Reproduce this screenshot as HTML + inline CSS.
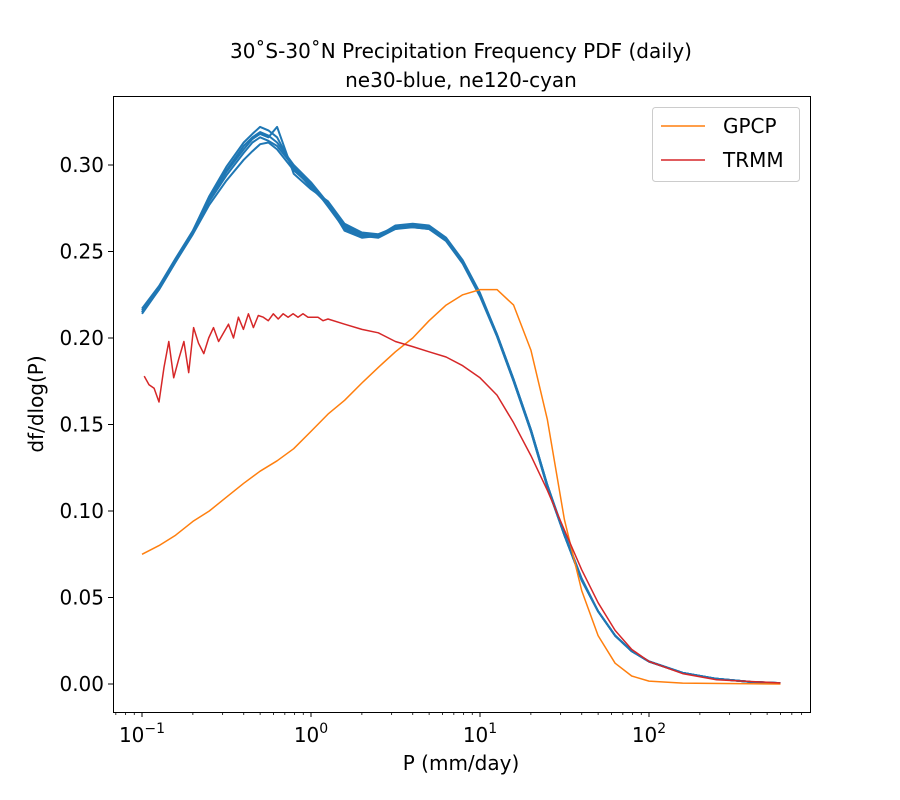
<!DOCTYPE html>
<html><head><meta charset="utf-8"><style>
html,body{margin:0;padding:0;background:#fff;}
svg{display:block;font-family:"DejaVu Sans","Liberation Sans",sans-serif;}
</style></head><body>
<svg id="chart" width="900" height="800" viewBox="0 0 900 800" xmlns="http://www.w3.org/2000/svg">
<rect x="0" y="0" width="900" height="800" fill="#fff"/>
<text x="461" y="58" text-anchor="middle" font-size="20">30˚S-30˚N Precipitation Frequency PDF (daily)</text>
<text x="461" y="87" text-anchor="middle" font-size="20">ne30-blue, ne120-cyan</text>
<g id="plot"></g>
<text x="461" y="770" text-anchor="middle" font-size="20">P (mm/day)</text>
<text transform="translate(43,404) rotate(-90)" text-anchor="middle" font-size="20">df/dlog(P)</text>
<g>
<rect x="652.5" y="107.5" width="147" height="74" rx="3" fill="#fff" stroke="#ccc"/>
<line x1="661" y1="126" x2="705" y2="126" stroke="#ff7f0e" stroke-width="1.5"/>
<text x="723" y="133" font-size="20">GPCP</text>
<line x1="661" y1="160" x2="705" y2="160" stroke="#d62728" stroke-width="1.5"/>
<text x="723" y="167" font-size="20">TRMM</text>
</g>
</svg>
<script>
const blueP = [0.1,0.126,0.158,0.2,0.25,0.316,0.4,0.45,0.5,0.56,0.63,0.79,1.0,1.26,1.58,2.0,2.5,3.16,4.0,5.0,6.3,7.9,10,12.6,15.8,20,25,31.6,40,50,63,79,100,158,251,398,600];
const blue1 = [0.214,0.228,0.244,0.260,0.277,0.291,0.303,0.308,0.312,0.313,0.309,0.297,0.288,0.277,0.265,0.260,0.259,0.264,0.265,0.264,0.257,0.244,0.225,0.202,0.176,0.147,0.115,0.086,0.060,0.042,0.028,0.019,0.013,0.0065,0.003,0.0012,0.0005];
const blue2 = [0.216,0.229,0.245,0.261,0.279,0.294,0.307,0.313,0.316,0.314,0.311,0.299,0.289,0.276,0.263,0.259,0.258,0.263,0.264,0.263,0.256,0.243,0.224,0.201,0.175,0.146,0.114,0.086,0.060,0.042,0.028,0.019,0.013,0.0065,0.003,0.0012,0.0005];
const blue3 = [0.217,0.230,0.246,0.262,0.281,0.297,0.311,0.316,0.319,0.317,0.313,0.300,0.290,0.278,0.262,0.258,0.259,0.265,0.266,0.265,0.258,0.245,0.226,0.202,0.176,0.147,0.115,0.087,0.061,0.042,0.028,0.019,0.013,0.0065,0.003,0.0012,0.0005];
const blue4 = [0.215,0.229,0.245,0.262,0.282,0.299,0.313,0.318,0.322,0.320,0.316,0.298,0.287,0.277,0.264,0.260,0.259,0.263,0.265,0.264,0.257,0.244,0.225,0.201,0.175,0.146,0.114,0.086,0.060,0.042,0.028,0.019,0.013,0.0065,0.003,0.0012,0.0005];
const blue5 = [0.215,0.228,0.244,0.261,0.280,0.296,0.309,0.315,0.318,0.316,0.322,0.295,0.286,0.279,0.266,0.261,0.260,0.264,0.264,0.263,0.257,0.244,0.225,0.202,0.176,0.147,0.115,0.086,0.060,0.042,0.028,0.019,0.013,0.0065,0.003,0.0012,0.0005];
const gpcpP = [0.1,0.126,0.158,0.2,0.25,0.316,0.4,0.5,0.63,0.79,1.0,1.26,1.58,2.0,2.5,3.16,4.0,5.0,6.3,7.9,10,12.6,15.8,20,25,31.6,40,50,63,79,100,158,600];
const gpcpV = [0.075,0.080,0.086,0.094,0.100,0.108,0.116,0.123,0.129,0.136,0.146,0.156,0.164,0.174,0.183,0.192,0.200,0.210,0.219,0.225,0.228,0.228,0.219,0.193,0.153,0.095,0.054,0.028,0.012,0.0046,0.0017,0.0005,0.0];
const trmmP = [0.103,0.110,0.118,0.126,0.135,0.144,0.154,0.165,0.177,0.189,0.202,0.216,0.232,0.248,0.265,0.284,0.304,0.325,0.348,0.372,0.398,0.426,0.456,0.488,0.522,0.559,0.598,0.640,0.684,0.732,0.784,0.838,0.897,0.960,1.03,1.10,1.18,1.26,1.58,2.0,2.5,3.16,4.0,5.0,6.3,7.9,10,12.6,15.8,20,25,31.6,40,50,63,79,100,158,251,600];
const trmmV = [0.178,0.173,0.171,0.163,0.183,0.198,0.177,0.188,0.198,0.180,0.206,0.197,0.191,0.200,0.206,0.198,0.203,0.208,0.200,0.212,0.205,0.214,0.206,0.213,0.212,0.210,0.214,0.211,0.214,0.212,0.214,0.212,0.214,0.212,0.212,0.212,0.210,0.211,0.208,0.205,0.203,0.198,0.195,0.192,0.189,0.184,0.177,0.167,0.151,0.132,0.112,0.089,0.066,0.047,0.031,0.020,0.013,0.006,0.0025,0.0006];
const yTicks = [0.00,0.05,0.10,0.15,0.20,0.25,0.30];
const xTickExps = [-1,0,1,2];

const L=113,R=810,T=96,B=712;
function sx(p){return 311+169*Math.log10(p);}
function sy(v){return 684-v*1730;}
const NS="http://www.w3.org/2000/svg";
const g=document.getElementById('plot');
function mk(tag,attrs,parent){const e=document.createElementNS(NS,tag);for(const k in attrs)e.setAttribute(k,attrs[k]);(parent||g).appendChild(e);return e;}

function line(P,V,color,w,name){
  const d=P.map((p,i)=>(i?'L':'M')+sx(p).toFixed(1)+','+sy(V[i]).toFixed(1)).join('');
  const e=mk('path',{d:d,fill:'none',stroke:color,'stroke-width':w,'stroke-linejoin':'round'});
  
  
}
[blue1,blue2,blue3,blue4,blue5].forEach((b,i)=>line(blueP,b,'#1f77b4',2,'ne30-series-'+(i+1)));
line(gpcpP,gpcpV,'#ff7f0e',1.5,'gpcp-line');
line(trmmP,trmmV,'#d62728',1.5,'trmm-line');

const frame=mk('rect',{x:L+0.5,y:T+0.5,width:R-L,height:B-T,fill:'none',stroke:'#000','stroke-width':1});



yTicks.forEach(v=>{
  const y=sy(v);
  const t=mk('line',{x1:L-5,x2:L,y1:y,y2:y,stroke:'#000'});
  
  
  const lb=mk('text',{x:L-9,y:y+7,'text-anchor':'end','font-size':20});
  lb.textContent=v.toFixed(2);
  
  
});
for(let e=-2;e<=2;e++){
  for(let m=1;m<10;m++){
    const p=m*Math.pow(10,e);const x=sx(p);
    if(x<L||x>R)continue;
    const major=(m===1);
    const t=mk('line',{x1:x,x2:x,y1:B,y2:B+(major?5:3),stroke:'#000','stroke-width':major?1:0.8});
    
    
  }
}
xTickExps.forEach(e=>{
  const x=sx(Math.pow(10,e));
  const lb=mk('text',{x:x,y:742,'text-anchor':'middle','font-size':20});
  lb.innerHTML='10<tspan dy="-9" font-size="14">'+(e<0?'\u2212'+(-e):e)+'</tspan>';
  
  
});
</script>
</body></html>
